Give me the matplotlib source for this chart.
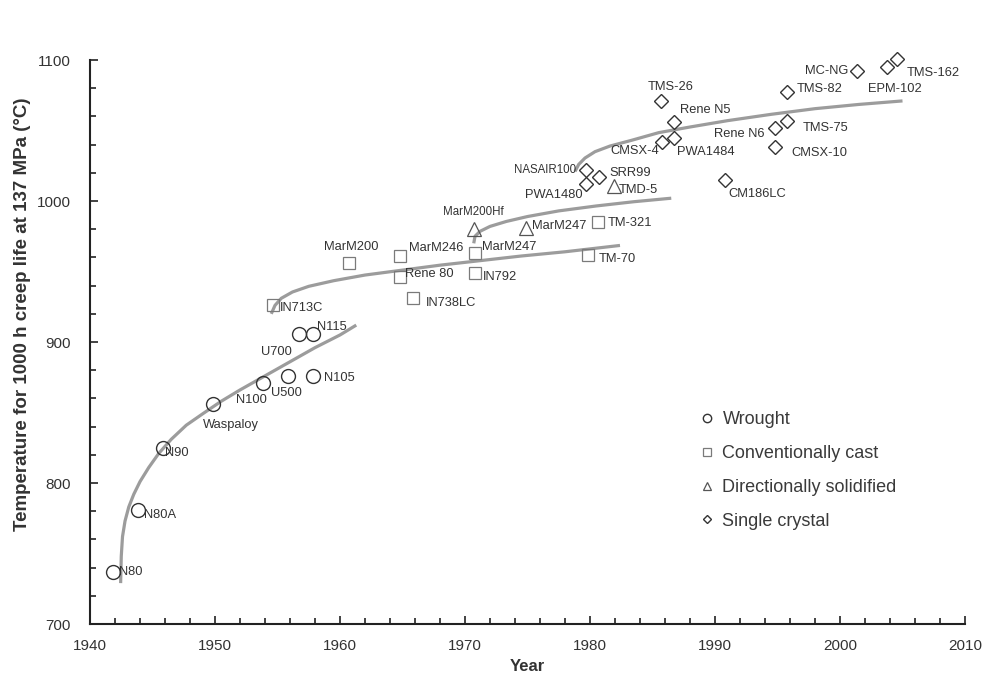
import matplotlib
matplotlib.use("Agg")
import matplotlib.pyplot as plt
from matplotlib.ticker import MultipleLocator

plt.rcParams['font.family'] = ['Liberation Sans', 'DejaVu Sans']

# wrought alloys
wr_names = ['N80', 'N80A', 'N90', 'Waspaloy', 'N100', 'U500', 'N105', 'U700', 'N115']
wr_year = [1941.8, 1943.8, 1945.8, 1949.8, 1953.8, 1955.8, 1957.8, 1956.7, 1957.8]
wr_temp = [737, 781, 825, 856, 871, 876, 876, 906, 906]

# conventionally cast
cc_names = ['IN713C', 'MarM200', 'MarM246', 'Rene 80', 'IN738LC', 'MarM247', 'IN792', 'TM-70', 'TM-321']
cc_year = [1954.6, 1960.7, 1964.8, 1964.8, 1965.8, 1970.8, 1970.8, 1979.8, 1980.6]
cc_temp = [926, 956, 961, 946, 931, 963, 949, 962, 985]

# directionally solidified
ds_names = ['MarM200Hf', 'MarM247', 'TMD-5']
ds_year = [1970.7, 1974.9, 1981.9]
ds_temp = [980, 981, 1011]

# single crystal
sx_names = ['NASAIR100', 'PWA1480', 'SRR99', 'TMS-26', 'CMSX-4', 'Rene N5', 'PWA1484', 'CM186LC',
            'Rene N6', 'CMSX-10', 'TMS-75', 'TMS-82', 'MC-NG', 'EPM-102', 'TMS-162']
sx_year = [1979.7, 1979.7, 1980.7, 1985.7, 1985.8, 1986.7, 1986.7, 1990.8,
           1994.8, 1994.8, 1995.8, 1995.8, 2001.4, 2003.8, 2004.6]
sx_temp = [1022, 1012, 1017, 1071, 1042, 1056, 1045, 1015,
           1052, 1038, 1057, 1077, 1092, 1095, 1101]

# trend curves
wr_curve_x = [1942.45, 1942.5, 1942.6, 1942.8, 1943.1, 1943.5, 1944.0, 1944.7, 1945.5, 1946.5,
              1947.7, 1949.0, 1950.5, 1952.0, 1954.0, 1956.0, 1958.0, 1960.0, 1961.3]
wr_curve_y = [729, 748, 762, 773, 783, 792, 801, 811, 821, 831,
              841, 849, 858, 866, 876, 886, 896, 905, 912]
cc_curve_x = [1954.5, 1954.8, 1955.3, 1956.2, 1957.5, 1959.5, 1962.0, 1965.0, 1968.0, 1971.0,
              1974.5, 1978.0, 1982.4]
cc_curve_y = [920, 926, 931, 935.5, 939.5, 943.5, 947.5, 951, 954.5, 957.5, 961, 964, 968.5]
ds_curve_x = [1970.7, 1970.8, 1971.2, 1972.0, 1973.3, 1975.0, 1977.5, 1980.5, 1983.5, 1986.5]
ds_curve_y = [970, 975, 978.5, 982, 985.5, 989, 993, 996.5, 999.5, 1002]
sx_curve_x = [1978.8, 1979.1, 1979.6, 1980.4, 1981.6, 1983.3, 1985.5, 1988.0, 1991.0, 1994.5,
              1998.0, 2001.5, 2005.0]
sx_curve_y = [1021, 1026, 1030.5, 1035, 1039, 1043, 1048.5, 1052.5, 1057, 1061.5,
              1065.5, 1068.5, 1071]

# label placement (offset in pixels, alignment)
offsets = {
    'wr': [(6, 0, 'left'), (6, -5, 'left'), (2, -5, 'left'), (-10, -21, 'left'), (4, -17, 'right'),
           (-17, -17, 'left'), (11, -2, 'left'), (-7, -18, 'right'), (4, 7, 'left')],
    'cc': [(7, -3, 'left'), (2, 16, 'center'), (9, 8, 'left'), (5, 3, 'left'), (13, -5, 'left'),
           (7, 6, 'left'), (8, -4, 'left'), (11, -4, 'left'), (10, -1, 'left')],
    'ds': [(0, 17, 'center'), (6, 2, 'left'), (5, -4, 'left')],
    'sx': [(-10, 0, 'right'), (-4, -11, 'right'), (11, 4, 'left'), (9, 14, 'center'), (-3, -9, 'right'),
           (6, 12, 'left'), (3, -14, 'left'), (3, -14, 'left'), (-10, -6, 'right'), (16, -6, 'left'),
           (15, -7, 'left'), (9, 3, 'left'), (-9, 0, 'right'), (7, -22, 'center'), (9, -14, 'left')],
}

fig = plt.figure(figsize=(9.87, 6.73), dpi=100)
ax = fig.add_axes([0.0912, 0.0728, 0.8865, 0.838])

curve_kw = dict(color='#9c9c9c', lw=2.3, solid_capstyle='butt', solid_joinstyle='round', zorder=1)
ax.plot(wr_curve_x, wr_curve_y, **curve_kw)
ax.plot(cc_curve_x, cc_curve_y, **curve_kw)
ax.plot(ds_curve_x, ds_curve_y, **curve_kw)
ax.plot(sx_curve_x, sx_curve_y, **curve_kw)

h1, = ax.plot(wr_year, wr_temp, 'o', ms=10, mfc='none', mec='#333333', mew=1.0, ls='none',
              zorder=3, clip_on=False, label='Wrought')
h2, = ax.plot(cc_year, cc_temp, 's', ms=9.3, mfc='none', mec='#7a7a7a', mew=0.9, ls='none',
              zorder=3, clip_on=False, label='Conventionally cast')
h3, = ax.plot(ds_year, ds_temp, '^', ms=10.5, mfc='none', mec='#555555', mew=0.9, ls='none',
              zorder=3, clip_on=False, label='Directionally solidified')
h4, = ax.plot(sx_year, sx_temp, 'D', ms=7, mfc='none', mec='#333333', mew=1.0, ls='none',
              zorder=3, clip_on=False, label='Single crystal')

groups = [('wr', wr_names, wr_year, wr_temp), ('cc', cc_names, cc_year, cc_temp),
          ('ds', ds_names, ds_year, ds_temp), ('sx', sx_names, sx_year, sx_temp)]
for key, names, xs, ys in groups:
    for name, x, y, (dx, dy, ha) in zip(names, xs, ys, offsets[key]):
        fs = 8.3 if name in ('MarM200Hf', 'NASAIR100') else 9.3
        ax.annotate(name, (x, y), xytext=(dx, dy), textcoords='offset pixels',
                    ha=ha, va='center', fontsize=fs, color='#333333', zorder=4,
                    annotation_clip=False)

leg = ax.legend(handles=[h1, h2, h3, h4], loc='upper left', bbox_to_anchor=(0.697, 0.377),
                frameon=False, fontsize=13, markerscale=0.6, handlelength=0.8,
                handletextpad=0.45, labelspacing=0.93, borderpad=0, borderaxespad=0)
for t in leg.get_texts():
    t.set_color('#3a3a3a')

ax.set_xlim(1940, 2010)
ax.set_ylim(700, 1100)
ax.xaxis.set_major_locator(MultipleLocator(10))
ax.xaxis.set_minor_locator(MultipleLocator(2))
ax.yaxis.set_major_locator(MultipleLocator(100))
ax.yaxis.set_minor_locator(MultipleLocator(20))
ax.tick_params(which='both', direction='in', colors='#222222', labelcolor='#333333', width=1.2)
ax.tick_params(which='major', length=6, labelsize=11, pad=11)
ax.tick_params(which='minor', length=4)
ax.tick_params(axis='y', which='major', pad=14)

for side in ['top', 'right']:
    ax.spines[side].set_visible(False)
for side in ['left', 'bottom']:
    ax.spines[side].set_color('#222222')
    ax.spines[side].set_linewidth(1.5)

ax.set_xlabel('Year', fontsize=12, fontweight='bold', color='#333333', labelpad=4)
ax.set_ylabel('Temperature for 1000 h creep life at 137 MPa (\u00b0C)', fontsize=13.5,
              fontweight='bold', color='#333333')
ax.yaxis.set_label_coords(-0.068, 0.55)

fig.savefig('out.png', dpi=100)
